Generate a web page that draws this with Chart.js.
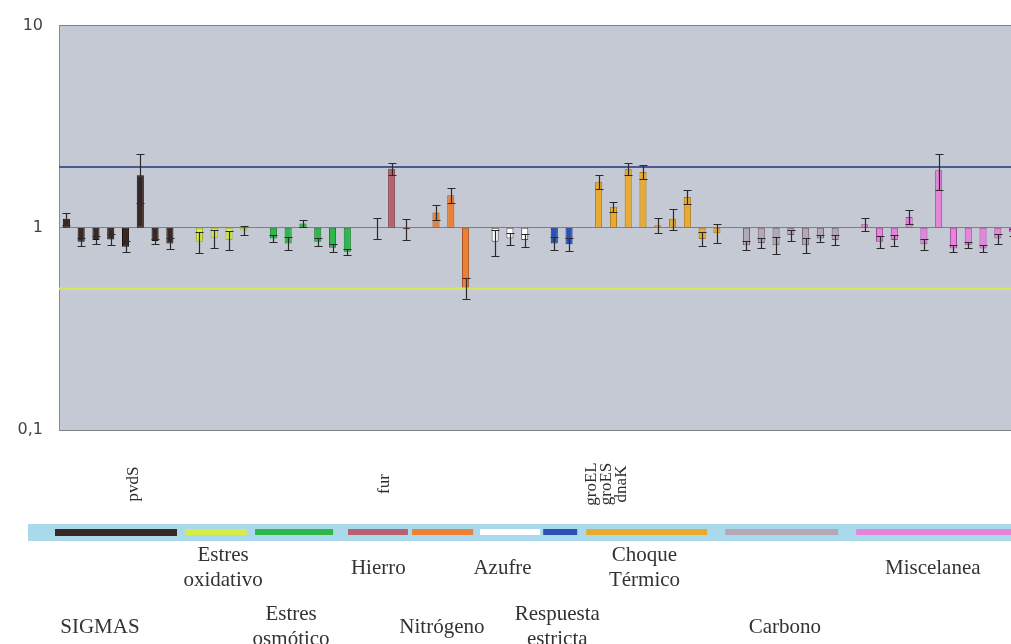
<!DOCTYPE html>
<html>
<head>
<meta charset="utf-8">
<script src="https://cdn.jsdelivr.net/npm/chart.js@4"></script>
<style>
  html, body { margin: 0; padding: 0; background: #fff; overflow: hidden; }
  #wrap { width: 1030px; height: 644px; }
</style>
</head>
<body>
<div id="wrap"><canvas id="chart"></canvas></div>
<script>
// fold change per gene, grouped by regulon (mean and sd)
const groupNames = [
  ['SIGMAS'], ['Estres', 'oxidativo'], ['Estres', 'osmótico'], ['Hierro'], ['Nitrógeno'],
  ['Azufre'], ['Respuesta', 'estricta'], ['Choque', 'Térmico'], ['Carbono'], ['Miscelanea']
];

const sigmasValues = [1.11, 0.853, 0.87, 0.876, 0.806, 1.82, 0.86, 0.837];
const sigmasErrors = [0.075, 0.04, 0.042, 0.058, 0.05, 0.49, 0.025, 0.05];
const sigmasGenes = ['', '', '', '', '', 'pvdS', '', ''];

const oxidativoValues = [0.853, 0.887, 0.87, 0.97];
const oxidativoErrors = [0.10, 0.09, 0.09, 0.05];

const osmoticoValues = [0.886, 0.837, 1.05, 0.853, 0.797, 0.762];
const osmoticoErrors = [0.04, 0.064, 0.04, 0.04, 0.035, 0.025];

const hierroValues = [1.0, 1.96, 0.985];
const hierroErrors = [0.12, 0.14, 0.115];
const hierroGenes = ['', 'fur', ''];

const nitrogenoValues = [1.19, 1.45, 0.506];
const nitrogenoErrors = [0.1, 0.12, 0.06];

const azufreValues = [0.853, 0.886, 0.87];
const azufreErrors = [0.125, 0.06, 0.065];

const estrictaValues = [0.837, 0.83];
const estrictaErrors = [0.06, 0.06];

const choqueValues = [1.69, 1.27, 1.96, 1.89, 1.03, 1.11, 1.42, 0.88, 0.94];
const choqueErrors = [0.135, 0.07, 0.14, 0.15, 0.09, 0.13, 0.11, 0.07, 0.1];
const choqueGenes = ['groEL', 'groES', 'dnaK', '', '', '', '', '', ''];

const carbonoValues = [0.82, 0.84, 0.82, 0.92, 0.82, 0.886, 0.87];
const carbonoErrors = [0.045, 0.047, 0.08, 0.06, 0.067, 0.04, 0.05];

const miscValues = [1.04, 0.853, 0.87, 1.13, 0.83, 1.925, 0.79, 0.82, 0.79, 0.886, 0.95];
const miscErrors = [0.08, 0.063, 0.055, 0.09, 0.055, 0.38, 0.03, 0.03, 0.035, 0.05, 0.04];

const yTicks = [0.1, 1, 10];
const upperThreshold = 2;
const lowerThreshold = 0.5;

const groups = [
  { values: sigmasValues, errors: sigmasErrors, genes: sigmasGenes, fill: '#3a2622', stroke: '#1a100e' },
  { values: oxidativoValues, errors: oxidativoErrors, fill: '#d6ec48', stroke: '#9fae2e' },
  { values: osmoticoValues, errors: osmoticoErrors, fill: '#2eb84a', stroke: '#1a7a30' },
  { values: hierroValues, errors: hierroErrors, genes: hierroGenes, fill: '#b8606e', stroke: '#7a3a48' },
  { values: nitrogenoValues, errors: nitrogenoErrors, fill: '#ec8034', stroke: '#a85020' },
  { values: azufreValues, errors: azufreErrors, fill: '#ffffff', stroke: '#555555' },
  { values: estrictaValues, errors: estrictaErrors, fill: '#2b50b8', stroke: '#1a3080' },
  { values: choqueValues, errors: choqueErrors, genes: choqueGenes, fill: '#eaaa2e', stroke: '#a87818' },
  { values: carbonoValues, errors: carbonoErrors, fill: '#b4a8b4', stroke: '#6a5e6a' },
  { values: miscValues, errors: miscErrors, fill: '#e684dc', stroke: '#9a4a94' }
];

// one empty slot between groups
const slots = [];
groups.forEach((g, gi) => {
  if (gi > 0) slots.push(null);
  g.values.forEach((v, i) => slots.push({
    value: v, error: g.errors[i], gene: g.genes ? g.genes[i] : '', fill: g.fill, stroke: g.stroke
  }));
});

// bottom legend: coloured strip spans and group label anchors, in slot units
const stripSpans = [[-0.77, 7.48], [8.02, 12.2], [12.76, 18.04], [19.05, 23.1], [23.38, 27.51],
  [27.98, 32.04], [32.25, 34.55], [35.16, 43.34], [44.56, 52.2], [53.42, 66]];
const labelSlots = [2.27, 10.6, 15.2, 21.1, 25.4, 29.5, 33.2, 39.1, 48.6, 58.6];

const plotBackground = {
  id: 'plotBackground',
  beforeDraw(chart) {
    const { ctx, chartArea: a } = chart;
    ctx.save();
    ctx.fillStyle = '#c4c9d4';
    ctx.fillRect(a.left, a.top, a.right - a.left, a.bottom - a.top);
    ctx.restore();
  }
};

const thresholds = {
  id: 'thresholds',
  beforeDatasetsDraw(chart) {
    const { ctx, chartArea: a, scales: { y } } = chart;
    ctx.save();
    [[upperThreshold, '#4b5a8e', 2], [lowerThreshold, '#d4e65a', 2.5]].forEach(([v, c, w]) => {
      const py = y.getPixelForValue(v);
      ctx.strokeStyle = c;
      ctx.lineWidth = w;
      ctx.beginPath();
      ctx.moveTo(a.left, py);
      ctx.lineTo(a.right, py);
      ctx.stroke();
    });
    ctx.restore();
  }
};

const errorBars = {
  id: 'errorBars',
  afterDatasetsDraw(chart) {
    const { ctx, scales: { y } } = chart;
    const meta = chart.getDatasetMeta(0);
    ctx.save();
    ctx.strokeStyle = '#2a2a2a';
    ctx.lineWidth = 1.2;
    meta.data.forEach((bar, i) => {
      const s = slots[i];
      if (!s) return;
      const hi = Math.round(y.getPixelForValue(s.value + s.error)) + 0.5;
      const lo = Math.round(y.getPixelForValue(s.value - s.error)) + 0.5;
      const x = Math.round(bar.x) + 0.5;
      ctx.beginPath();
      ctx.moveTo(x, hi); ctx.lineTo(x, lo);
      ctx.moveTo(x - 4, hi); ctx.lineTo(x + 4, hi);
      ctx.moveTo(x - 4, lo); ctx.lineTo(x + 4, lo);
      ctx.stroke();
    });
    ctx.restore();
  }
};

const groupLegend = {
  id: 'groupLegend',
  afterDraw(chart) {
    const { ctx, chartArea: a, width } = chart;
    const step = (a.right - a.left) / slots.length;
    const sx = pos => a.left + (pos + 0.5) * step;
    const meta = chart.getDatasetMeta(0);
    ctx.save();

    // gene names, rotated
    ctx.fillStyle = '#2e2e2e';
    ctx.font = '17px "Liberation Serif", serif';
    ctx.textAlign = 'center';
    ctx.textBaseline = 'middle';
    slots.forEach((s, i) => {
      if (!s || !s.gene) return;
      ctx.save();
      ctx.translate(meta.data[i].x - 7, 484);
      ctx.rotate(-Math.PI / 2);
      ctx.fillText(s.gene, 0, 0);
      ctx.restore();
    });

    // coloured strip
    ctx.fillStyle = '#a9d9ea';
    ctx.fillRect(28, 524, width - 28, 17);
    stripSpans.forEach(([s0, s1], i) => {
      ctx.fillStyle = groups[i].fill;
      ctx.fillRect(sx(s0), 529, sx(s1) - sx(s0), i === 0 ? 7 : 6);
    });

    // group names, alternating rows
    ctx.fillStyle = '#333';
    ctx.font = '21px "Liberation Serif", serif';
    groupNames.forEach((lines, i) => {
      const cy = i % 2 === 0 ? 627 : 568;
      const x = sx(labelSlots[i]);
      lines.forEach((t, k) => {
        const y = cy + (k - (lines.length - 1) / 2) * 25;
        ctx.fillText(t, x, y);
      });
    });
    ctx.restore();
  }
};

new Chart(document.getElementById('chart'), {
  type: 'bar',
  data: {
    labels: slots.map(s => (s ? s.gene : '')),
    datasets: [{
      data: slots.map(s => (s ? [1, s.value] : null)),
      backgroundColor: slots.map(s => (s ? s.fill : 'transparent')),
      borderColor: slots.map(s => (s ? s.stroke : 'transparent')),
      borderWidth: 1,
      borderSkipped: false,
      barPercentage: 0.48,
      categoryPercentage: 1
    }]
  },
  options: {
    responsive: true,
    maintainAspectRatio: false,
    animation: false,
    layout: { padding: { top: 24, right: 10, left: 0, bottom: 0 } },
    plugins: { legend: { display: false }, tooltip: { enabled: false } },
    scales: {
      x: {
        ticks: { display: false },
        grid: { display: false },
        border: { display: false },
        afterFit: s => { s.height = 214; }
      },
      y: {
        type: 'logarithmic',
        min: 0.1,
        max: 10,
        afterBuildTicks: s => { s.ticks = yTicks.map(v => ({ value: v })); },
        afterFit: s => { s.width = 59; },
        ticks: {
          callback: v => String(v).replace('.', ','),
          font: { family: 'DejaVu Sans', size: 16 },
          color: '#444',
          padding: 16
        },
        grid: { color: '#808080', lineWidth: 1, drawTicks: false },
        border: { color: '#8a8a8a' }
      }
    }
  },
  plugins: [plotBackground, thresholds, errorBars, groupLegend]
});
</script>
</body>
</html>
